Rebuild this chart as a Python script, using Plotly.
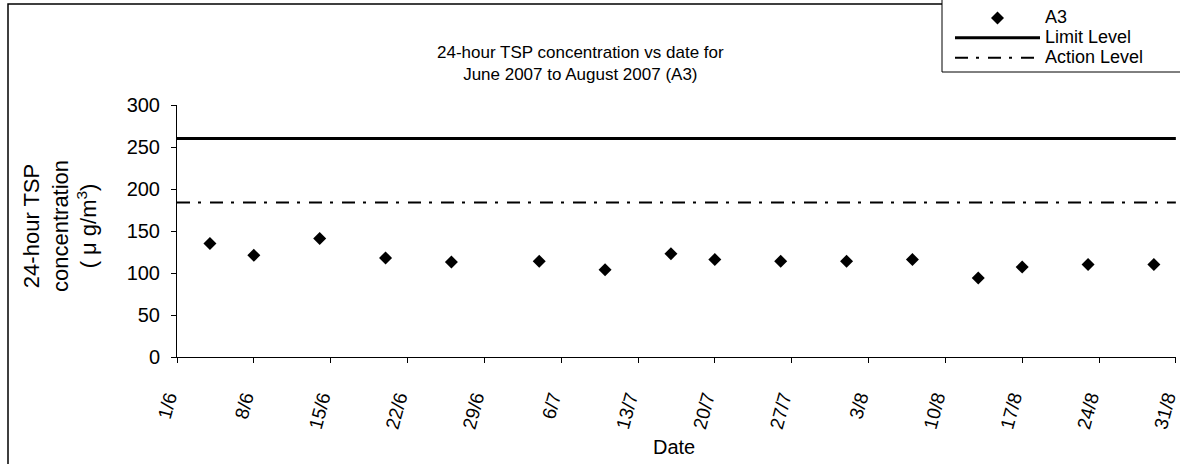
import plotly.graph_objects as go

# ---- data ----
sample_dates = ["2007-06-04", "2007-06-08", "2007-06-14", "2007-06-20", "2007-06-26",
                "2007-07-04", "2007-07-10", "2007-07-16", "2007-07-20", "2007-07-26",
                "2007-08-01", "2007-08-07", "2007-08-13", "2007-08-17", "2007-08-23",
                "2007-08-29"]
tsp_a3 = [135, 121, 141, 118, 113, 114, 104, 123, 116, 114, 114, 116, 94, 107, 110, 110]

limit_level = 260
action_level = 184
period = ["2007-06-01", "2007-08-31"]

tick_dates = ["2007-06-01", "2007-06-08", "2007-06-15", "2007-06-22", "2007-06-29",
              "2007-07-06", "2007-07-13", "2007-07-20", "2007-07-27", "2007-08-03",
              "2007-08-10", "2007-08-17", "2007-08-24", "2007-08-31"]
tick_labels = ["1/6", "8/6", "15/6", "22/6", "29/6", "6/7", "13/7", "20/7", "27/7",
               "3/8", "10/8", "17/8", "24/8", "31/8"]

FONT = "Liberation Sans, Arial, sans-serif"
W, H = 1180, 464
L, R, T, B = 177, 4, 105, 107
pw, ph = W - L - R, H - T - B

def px_x(x):
    return (x - L) / pw

def px_y(y):
    return (H - B - y) / ph

fig = go.Figure()
fig.add_trace(go.Scatter(x=sample_dates, y=tsp_a3, mode="markers", name="A3",
                         marker=dict(symbol="diamond", size=10, color="black")))
fig.add_trace(go.Scatter(x=period, y=[limit_level] * len(period), mode="lines",
                         name="Limit Level", line=dict(color="black", width=3)))
fig.add_trace(go.Scatter(x=period, y=[action_level] * len(period), mode="lines",
                         name="Action Level",
                         line=dict(color="black", width=2, dash="13px,8px,3px,9px")))

# legend: row spacing driven by the legend font, text enlarged via span
fig.for_each_trace(lambda t: t.update(
    name='<span style="font-size:18px">%s</span>' % t.name))

fig.update_layout(
    width=W, height=H,
    margin=dict(l=L, r=R, t=T, b=B, autoexpand=False),
    paper_bgcolor="white", plot_bgcolor="white",
    font=dict(family=FONT, size=16, color="black"),
    showlegend=True,
    legend=dict(xref="container", yref="container",
                x=950 / W, y=1 - 3 / H, xanchor="left", yanchor="top",
                bgcolor="rgba(0,0,0,0)", borderwidth=0,
                itemwidth=85, tracegroupgap=0,
                font=dict(family=FONT, size=13, color="black")),
    xaxis=dict(type="date", range=[period[0], "2007-08-31 00:20"],
               tickvals=tick_dates, ticktext=tick_labels,
               tickangle=-75, ticks="outside", ticklen=5, tickcolor="black",
               ticklabelstandoff=16, ticklabelshift=-9, ticklabeloverflow="allow",
               showline=True, linecolor="black", linewidth=1, showgrid=False,
               zeroline=False, tickfont=dict(size=19)),
    yaxis=dict(range=[0, 300], dtick=50, ticks="outside", ticklen=5, tickcolor="black",
               ticklabelstandoff=7,
               showline=True, linecolor="black", linewidth=1, showgrid=False,
               zeroline=False, tickfont=dict(size=20)),
)

# chart frame and legend box
fig.add_shape(type="rect", xref="paper", yref="paper",
              x0=px_x(8), x1=px_x(1200), y0=px_y(490), y1=px_y(4),
              line=dict(color="black", width=1.5), layer="below")
fig.add_shape(type="rect", xref="paper", yref="paper",
              x0=px_x(942), x1=px_x(1200), y0=px_y(72), y1=px_y(-20),
              line=dict(color="black", width=1), fillcolor="white", layer="below")

# title
fig.add_annotation(text="24-hour TSP concentration vs date for<br>June 2007 to August 2007 (A3)",
                   xref="paper", yref="paper", x=px_x(580), y=px_y(64),
                   xanchor="center", yanchor="middle", showarrow=False,
                   font=dict(size=17), align="center")
# y-axis title
fig.add_annotation(text="24-hour TSP<br>concentration<br>( \u03bc g/m<sup>3</sup>)",
                   xref="paper", yref="paper", x=px_x(60), y=px_y(226),
                   xanchor="center", yanchor="middle", showarrow=False,
                   textangle=-90, font=dict(size=22), align="center")
# x-axis title
fig.add_annotation(text="Date", xref="paper", yref="paper", x=px_x(674), y=px_y(447),
                   xanchor="center", yanchor="middle", showarrow=False,
                   font=dict(size=20))

fig.write_html("out.html", config={"displayModeBar": False},
               post_script="document.body.style.margin='0';")
